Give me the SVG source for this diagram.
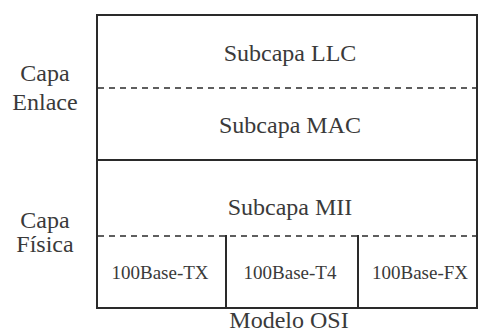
<svg xmlns="http://www.w3.org/2000/svg" width="479" height="334" viewBox="0 0 479 334">
<style>
.t{font-family:'Liberation Serif','Tinos','DejaVu Serif',serif;fill:#3a3a3a;text-anchor:middle}
.big{font-size:24px}
.sm{font-size:19px}
.solid{stroke:#2a2a2a;stroke-width:2;fill:none}
.dash{stroke:#2a2a2a;stroke-width:1.6;stroke-dasharray:6 5;fill:none}
</style>
<rect width="479" height="334" fill="#ffffff"/>
<g id="frame">
<rect class="solid" x="97" y="15" width="380" height="293"/>
</g>
<g id="connectors">
<line class="dash" x1="98" y1="88" x2="476" y2="88"/>
<line class="solid" x1="97" y1="160" x2="477" y2="160"/>
<line class="dash" x1="98" y1="236" x2="476" y2="236"/>
<line class="solid" x1="226" y1="235" x2="226" y2="308"/>
<line class="solid" x1="358" y1="235" x2="358" y2="308"/>
</g>
<g id="llc"><text class="t big" x="290" y="61">Subcapa LLC</text></g>
<g id="mac"><text class="t big" x="290" y="133">Subcapa MAC</text></g>
<g id="mii"><text class="t big" x="290" y="215">Subcapa MII</text></g>
<g id="tx"><text class="t sm" x="160" y="279">100Base-TX</text></g>
<g id="t4"><text class="t sm" x="290" y="279">100Base-T4</text></g>
<g id="fx"><text class="t sm" x="420" y="279">100Base-FX</text></g>
<g id="enlace"><text class="t big" x="45" y="81">Capa</text><text class="t big" x="45" y="110">Enlace</text></g>
<g id="fisica"><text class="t big" x="45" y="228">Capa</text><text class="t big" x="45" y="252">Física</text></g>
<g id="osi"><text class="t big" x="289" y="328">Modelo OSI</text></g>
</svg>
